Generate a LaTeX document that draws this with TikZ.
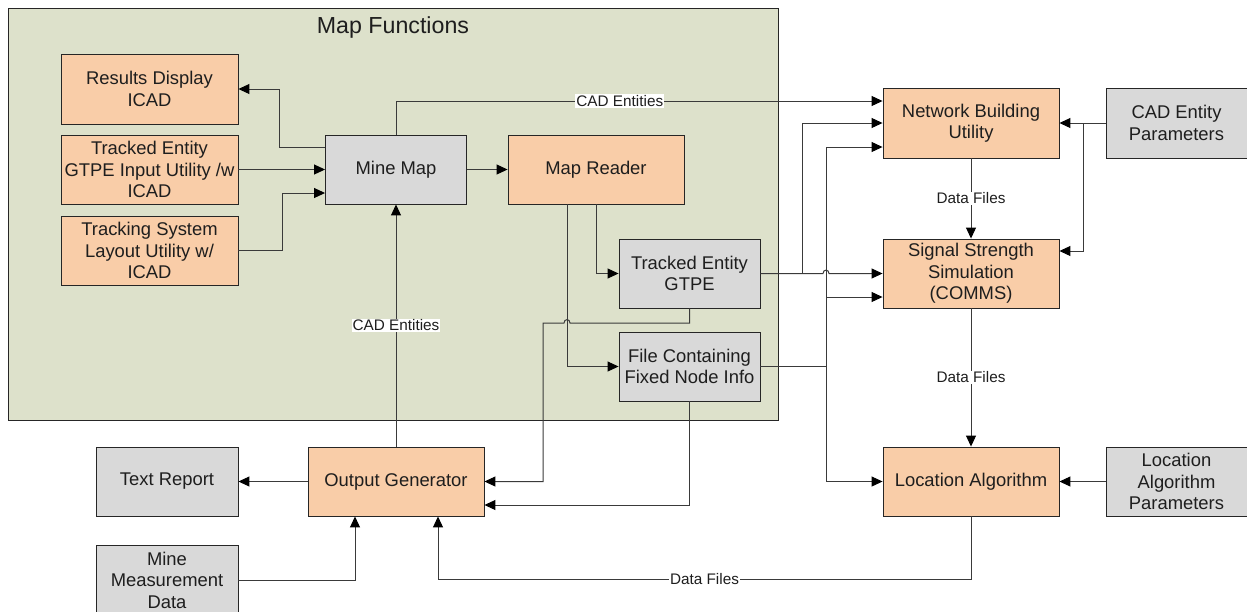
\documentclass[tikz,border=0pt]{standalone}
\usepackage{fontspec}
\setmainfont{Liberation Sans}
\usetikzlibrary{arrows.meta,calc}
\definecolor{orng}{HTML}{F9CDA8}
\definecolor{gry}{HTML}{D9D9D9}
\definecolor{olv}{HTML}{DDE1CB}
\definecolor{txt}{HTML}{1E1E1E}
\definecolor{lne}{HTML}{3A3A3A}
\begin{document}
\begin{tikzpicture}[x=1pt,y=-1pt,
  box/.style={draw=black!85, line width=0.9pt, align=center, inner sep=0pt,
    font=\fontsize{18.4}{21.5}\selectfont, text=txt},
  ob/.style={box, fill=orng},
  gb/.style={box, fill=gry},
  conn/.style={draw=lne, line width=1pt},
  arr/.style={conn, -{Triangle[length=11pt,width=10pt,color=black]}},
  lbl/.style={fill=white, inner sep=1pt, font=\fontsize{15.3}{17}\selectfont, text=txt}]
\useasboundingbox (0,0) rectangle (1247,611);

% container
\node[draw=black!85, line width=0.9pt, fill=olv, minimum width=770pt, minimum height=412pt,
  anchor=north west, inner sep=0pt] (mapf) at (8,8) {};
\node[anchor=base, font=\fontsize{23.2}{26}\selectfont, text=txt] (title) at (393,33) {Map Functions};

% nodes
\node[ob, minimum width=177pt, minimum height=70pt] (rd) at (149.5,89) {Results Display\\ICAD};
\node[ob, minimum width=177pt, minimum height=69pt] (tei) at (149.5,169.5) {Tracked Entity\\GTPE Input Utility /w\\ICAD};
\node[ob, minimum width=177pt, minimum height=69pt] (tsl) at (149.5,250.5) {Tracking System\\Layout Utility w/\\ICAD};
\node[gb, minimum width=141pt, minimum height=69pt] (mm) at (396,169.5) {Mine Map};
\node[ob, minimum width=176pt, minimum height=69pt] (mr) at (596,169.5) {Map Reader};
\node[gb, minimum width=141pt, minimum height=69pt] (gtpe) at (689.5,273.5) {Tracked Entity\\GTPE};
\node[gb, minimum width=141pt, minimum height=69pt] (fc) at (689.5,366.5) {File Containing\\Fixed Node Info};
\node[ob, minimum width=176pt, minimum height=70pt] (nbu) at (971,123) {Network Building\\Utility};
\node[gb, minimum width=141pt, minimum height=70pt] (cep) at (1176.5,123) {CAD Entity\\Parameters};
\node[ob, minimum width=176pt, minimum height=69pt] (sss) at (971,273.5) {Signal Strength\\Simulation\\(COMMS)};
\node[ob, minimum width=176pt, minimum height=69pt] (la) at (971,481.5) {Location Algorithm};
\node[gb, minimum width=141pt, minimum height=69pt] (lap) at (1176.5,481.5) {Location\\Algorithm\\Parameters};
\node[gb, minimum width=142pt, minimum height=69pt] (tr) at (167,481.5) {Text Report};
\node[ob, minimum width=176pt, minimum height=69pt] (og) at (396,481.5) {Output Generator};
\node[gb, minimum width=142pt, minimum height=69pt] (mmd) at (167,580) {Mine\\Measurement\\Data};

% connectors inside Map Functions
\draw[arr] ([yshift=22.5pt]mm.west) -- ++(-46,0) |- (rd.east);
\draw[arr] (tei.east) -- (mm.west);
\draw[arr] (tsl.east) -- ++(44,0) |- ([yshift=-23.5pt]mm.west);
\draw[arr] (mm.north) |- node[lbl, pos=0.73] {CAD Entities} ([yshift=22pt]nbu.west);
\draw[arr] (mm.east) -- (mr.west);
\draw[arr] (mr.south) |- (gtpe.west);
\draw[arr] ([xshift=-29pt]mr.south) |- (fc.west);
\draw[arr] (gtpe.south) -- (gtpe.south |- 0,323)
  -- (570,323) .. controls (570,318.5) and (564,318.5) .. (564,323)
  -- (543,323) |- (og.east);
\draw[arr] (fc.south) |- ([yshift=-23.5pt]og.east);
\draw[arr] (og.north) -- node[lbl] {CAD Entities} (mm.south);
\draw[arr] (og.west) -- (tr.east);
\draw[arr] (mmd.east) -| ([xshift=-41pt]og.south);
\draw[arr] (la.south) -- (la.south |- 0,579)
  -- node[lbl] {Data Files} (438,579) -- ([xshift=42pt]og.south);

% right side
\coordinate (split1) at (802,273.5);
\coordinate (bus) at (826,366.5);
\draw[arr] (gtpe.east) -- (823,273.5) .. controls (823,269) and (829,269) .. (829,273.5) -- (sss.west);
\draw[arr] (split1) |- (nbu.west);
\draw[conn] (fc.east) -- (bus);
\draw[arr] (bus) |- ([yshift=-24pt]nbu.west);
\draw[arr] (bus) |- (la.west);
\draw[arr] (826,297) -- ([yshift=-23.5pt]sss.west);
\draw[arr] (cep.west) -- (nbu.east);
\draw[arr] (1083,123) |- ([yshift=22.5pt]sss.east);
\draw[arr] (nbu.south) -- node[lbl] {Data Files} (sss.north);
\draw[arr] (sss.south) -- node[lbl] {Data Files} (la.north);
\draw[arr] (lap.west) -- (la.east);
\end{tikzpicture}
\end{document}
